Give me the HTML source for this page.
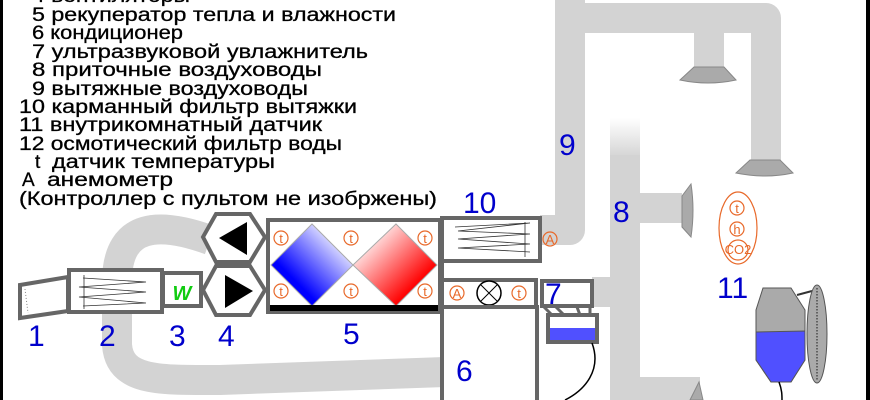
<!DOCTYPE html>
<html><head><meta charset="utf-8"><style>
html,body{margin:0;padding:0;background:#fff}
svg{display:block}
.lg{font-family:"Liberation Sans",sans-serif;font-size:19px;fill:#000;stroke:#000;stroke-width:0.3;white-space:pre}
.n{font-family:"Liberation Sans",sans-serif;font-size:30px;fill:#0000cc}
.o{font-family:"Liberation Sans",sans-serif;fill:none;stroke:#e8692a;stroke-width:1.2}
.ot{font-family:"Liberation Sans",sans-serif;fill:#e8692a;font-size:13px;text-anchor:middle}
</style></head><body>
<svg width="870" height="400" viewBox="0 0 870 400" xmlns="http://www.w3.org/2000/svg">
<defs>
<linearGradient id="gb" x1="0" y1="1" x2="1" y2="0"><stop offset="0.3" stop-color="#0000ff"/><stop offset="0.85" stop-color="#fff"/></linearGradient>
<linearGradient id="gr" x1="0" y1="0" x2="1" y2="1"><stop offset="0.15" stop-color="#fff"/><stop offset="0.75" stop-color="#ff0000"/></linearGradient>
<linearGradient id="fade" x1="0" y1="0" x2="0" y2="1"><stop offset="0" stop-color="#d3d3d3" stop-opacity="0"/><stop offset="1" stop-color="#d3d3d3"/></linearGradient>
</defs>
<rect x="0" y="0" width="3" height="400" fill="#000"/>
<rect x="866" y="0" width="4" height="400" fill="#000"/>
<!-- legend -->
<g class="lg">
<text x="32" y="2" textLength="158" lengthAdjust="spacingAndGlyphs">4 вентиляторы</text>
<text x="32" y="21" textLength="364" lengthAdjust="spacingAndGlyphs">5 рекуператор тепла и влажности</text>
<text x="32" y="39" textLength="151" lengthAdjust="spacingAndGlyphs">6 кондиционер</text>
<text x="32" y="58" textLength="336" lengthAdjust="spacingAndGlyphs">7 ультразвуковой увлажнитель</text>
<text x="32" y="76" textLength="290" lengthAdjust="spacingAndGlyphs">8 приточные  воздуховоды</text>
<text x="32" y="95" textLength="276" lengthAdjust="spacingAndGlyphs">9 вытяжные воздуховоды</text>
<text x="19" y="113" textLength="338" lengthAdjust="spacingAndGlyphs">10 карманный фильтр вытяжки</text>
<text x="19" y="131" textLength="303" lengthAdjust="spacingAndGlyphs">11 внутрикомнатный датчик</text>
<text x="19" y="150" textLength="323" lengthAdjust="spacingAndGlyphs">12 осмотический фильтр воды</text>
<text x="35" y="168">t</text>
<text x="52" y="168" textLength="223" lengthAdjust="spacingAndGlyphs">датчик температуры</text>
<text x="22" y="186">A</text>
<text x="47" y="186" textLength="126" lengthAdjust="spacingAndGlyphs">анемометр</text>
<text x="19" y="205" textLength="418" lengthAdjust="spacingAndGlyphs">(Контроллер с пультом не изобржены)</text>
</g>
<!-- ducts -->
<g fill="none" stroke="#d3d3d3" stroke-width="30" stroke-linejoin="round">
<path d="M210,240 C160,222 118,222 117,280 L117,345 C120,382 160,380 220,380 L445,372"/>
<path d="M570,0 L570,230 L540,230"/>
<path d="M560,18 L766,18 L766,162"/>
<path d="M709,18 L709,68"/>
<path d="M625,155 L625,400"/>
<path d="M625,208 L682,208"/>
<path d="M592,292 L625,292"/>
<path d="M625,392 L700,392"/>
</g>
<rect x="610" y="118" width="30" height="40" fill="url(#fade)"/>
<!-- diffusers -->
<g fill="#aaa" stroke="#888" stroke-width="1">
<path d="M680,80 L694,67 L724,67 L736,80 Q708,86 680,80Z"/>
<path d="M736,173 L750,160 L780,160 L793,173 Q765,179 736,173Z"/>
<path d="M682,196 L691,184 Q695,210 691,237 L682,227Z"/>
<path d="M690,400 L699,382 L703,400Z"/>
</g>
<!-- 1 -->
<path d="M20,285 L68,277 L68,311 L20,318Z" fill="#fff" stroke="#666" stroke-width="4"/>
<line x1="25" y1="289" x2="28" y2="313" stroke="#888" stroke-dasharray="1,2"/>
<!-- 2 -->
<rect x="69" y="270" width="93" height="42" fill="#fff" stroke="#666" stroke-width="4"/>
<path d="M83,278 L146,282 L79,287 L146,292 L79,297 L146,303 L83,306" fill="none" stroke="#333" stroke-width="0.8"/>
<line x1="84" y1="275" x2="84" y2="309" stroke="#333" stroke-width="0.8"/>
<!-- 3 -->
<rect x="163" y="273" width="38" height="33" fill="#fff" stroke="#666" stroke-width="4"/>
<text x="182" y="300" font-family="Liberation Sans,sans-serif" font-size="20" font-weight="bold" font-style="italic" fill="#11cc11" text-anchor="middle">W</text>
<!-- 4 fans -->
<path d="M216,214 L250,214 L265,237 L250,262 L216,262 L203,237Z" fill="#fff" stroke="#666" stroke-width="4"/>
<path d="M216,266 L250,266 L265,290 L250,315 L216,315 L203,290Z" fill="#fff" stroke="#666" stroke-width="4"/>
<path d="M247,222 L247,255 L219,238Z" fill="#000"/>
<path d="M225,275 L225,308 L253,291Z" fill="#000"/>
<!-- 5 -->
<rect x="268" y="220" width="172" height="92" fill="#fff" stroke="#666" stroke-width="4"/>
<path d="M312,224 L353,265 L312,306 L271,265Z" fill="url(#gb)" stroke="#aaa" stroke-width="1"/>
<path d="M396,224 L437,265 L396,306 L353,265Z" fill="url(#gr)" stroke="#aaa" stroke-width="1"/>
<rect x="270" y="305" width="168" height="6" fill="#000"/>
<g>
<circle cx="281" cy="238" r="7" class="o"/><text x="281" y="243" class="ot">t</text>
<circle cx="351" cy="238" r="7" class="o"/><text x="351" y="243" class="ot">t</text>
<circle cx="425" cy="238" r="7" class="o"/><text x="425" y="243" class="ot">t</text>
<circle cx="281" cy="291" r="7" class="o"/><text x="281" y="296" class="ot">t</text>
<circle cx="351" cy="291" r="7" class="o"/><text x="351" y="296" class="ot">t</text>
<circle cx="425" cy="291" r="7" class="o"/><text x="425" y="296" class="ot">t</text>
</g>
<!-- right wall -->
<line x1="442" y1="219" x2="442" y2="400" stroke="#666" stroke-width="4"/>
<!-- 10 -->
<rect x="442" y="218" width="98" height="43" fill="#fff" stroke="#666" stroke-width="4"/>
<path d="M455,227 L530,223 L458,231 L530,234 L458,239 L530,244 L458,248 L530,252" fill="none" stroke="#333" stroke-width="0.8"/>
<line x1="525" y1="222" x2="525" y2="257" stroke="#333" stroke-width="0.8"/>
<circle cx="550" cy="239" r="7" class="o"/><text x="550" y="244" class="ot">A</text>
<!-- row box -->
<rect x="442" y="280" width="94" height="27" fill="#fff" stroke="#666" stroke-width="4"/>
<circle cx="457" cy="293" r="7" class="o"/><text x="457" y="298" class="ot">A</text>
<circle cx="519" cy="293" r="7" class="o"/><text x="519" y="298" class="ot">t</text>
<circle cx="489" cy="293" r="12" fill="#fff" stroke="#000" stroke-width="1.5"/>
<path d="M481,285 L497,301 M497,285 L481,301" stroke="#000" stroke-width="1"/>
<!-- 6 -->
<rect x="442" y="307" width="95" height="100" fill="#fff" stroke="#666" stroke-width="4"/>
<!-- 7 -->
<rect x="542" y="281" width="50" height="25" fill="#fff" stroke="#666" stroke-width="4"/>
<path d="M544,307 L552,315 M556,307 L564,315 M577,307 L580,315 M590,307 L590,315" stroke="#666" stroke-width="3"/>
<rect x="548" y="315" width="49" height="27" fill="#fff" stroke="#666" stroke-width="4"/>
<rect x="550" y="328" width="45" height="12" fill="#5050ff"/>
<path d="M592,343 C602,370 585,390 565,400" fill="none" stroke="#000" stroke-width="1.5"/>
<!-- 11 -->
<ellipse cx="738" cy="228" rx="19" ry="36" class="o"/>
<circle cx="737" cy="208" r="7" class="o"/><text x="737" y="213" class="ot" font-size="11">t</text>
<circle cx="737" cy="229" r="7" class="o"/><text x="737" y="234" class="ot" font-size="11">h</text>
<circle cx="738" cy="250" r="10" class="o"/><text x="738" y="254" class="ot" font-size="9">CO2</text>
<!-- 12 -->
<path d="M763,288 L791,288 L805,310 L805,360 L791,382 L771,382 L756,360 L756,310Z" fill="#aaa" stroke="#555" stroke-width="1"/>
<path d="M756,332 L805,331 L805,360 L791,382 L771,382 L756,360Z" fill="#5050ff" stroke="#555" stroke-width="1"/>
<path d="M797,295 L812,291" stroke="#333" stroke-width="2"/>
<ellipse cx="817" cy="334" rx="10" ry="49" fill="#aaa" stroke="#555" stroke-width="1"/>
<line x1="817" y1="288" x2="817" y2="380" stroke="#333" stroke-width="1.2" stroke-dasharray="1.5,1.5"/>
<path d="M779,382 C782,390 782,395 782,400" fill="none" stroke="#000" stroke-width="1.5"/>
<!-- numbers -->
<g class="n">
<text x="28" y="346">1</text>
<text x="99" y="346">2</text>
<text x="169" y="346">3</text>
<text x="218" y="346">4</text>
<text x="343" y="344">5</text>
<text x="456" y="381">6</text>
<text x="545" y="304">7</text>
<text x="613" y="222">8</text>
<text x="559" y="155">9</text>
<text x="463" y="213">10</text>
<text x="717" y="298">11</text>
</g>
</svg>
</body></html>
